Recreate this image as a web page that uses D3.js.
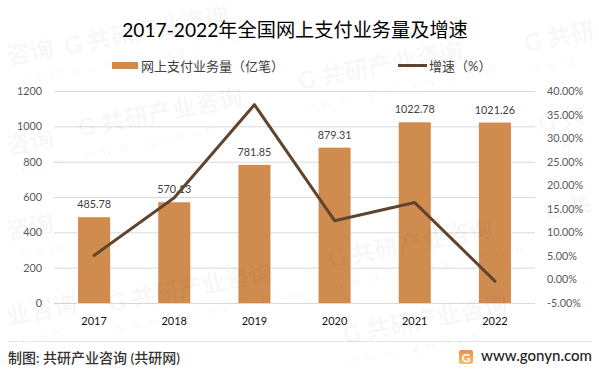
<!DOCTYPE html>
<html>
<head>
<meta charset="utf-8">
<script src="https://cdn.jsdelivr.net/npm/d3@7"></script>
<style>
  html, body { margin: 0; padding: 0; background: #fff; }
  svg { display: block; }
  text { font-family: Lato, "Noto Sans CJK SC", sans-serif; }
  .domain { display: none; }
</style>
</head>
<body>
<div class="graph"></div>
<script>
const years = ['2017', '2018', '2019', '2020', '2021', '2022']
const volume = [485.78, 570.13, 781.85, 879.31, 1022.78, 1021.26]
const growth = [5.1, 17.36, 37.1, 12.47, 16.32, -0.35]
const leftTicks = [0, 200, 400, 600, 800, 1000, 1200]
const rightTicks = [-5, 0, 5, 10, 15, 20, 25, 30, 35, 40]
// watermark pieces: x, y, big text, small text
const stamps = [
    [66, 55, 'G 共研产业咨询', 'w w w . g o n y n . c o m'],
    [80, 137, 'G 共研产业咨询', 'w w w . g o n y n . c o m'],
    [300, 90, 'G 共研产业咨询', 'w w w . g o n y n . c o m'],
    [110, 312, 'G 共研产业咨询', 'w w w . g o n y n . c o m'],
    [330, 268, 'G 共研产业咨询', 'w w w . g o n y n . c o m'],
    [345, 344, 'G 共研产业咨询', 'w w w . g o n y n'],
    [8, 65, '咨询', '. c o m'],
    [8, 155, '咨询', '. c o m'],
    [8, 240, '咨询', '. c o m'],
    [8, 325, '业咨询', '. c o m'],
    [526, 52, 'G 共研', 'w w w'],
    [540, 132, 'G 共', 'w w'],
    [546, 220, 'G 共', 'w w']
]

const width = 599, height = 373
const margin = {left: 54, right: 64, top: 91, bottom: 70}
const innerW = width - margin.left - margin.right
const innerH = height - margin.top - margin.bottom

const svg = d3.select('.graph').append('svg')
    .attr('width', width)
    .attr('height', height)

const graph = svg.append('g')
    .attr('transform', `translate(${margin.left}, ${margin.top})`)

const xScale = d3.scaleBand()
    .domain(years)
    .range([0, innerW])
    .paddingInner(0.6)
    .paddingOuter(0.3)
const yLeft = d3.scaleLinear().domain([0, 1200]).range([innerH, 0])
const yRight = d3.scaleLinear().domain([-5, 40]).range([innerH, 0])

// grid + left axis
const leftAxis = graph.append('g')
    .call(d3.axisLeft(yLeft).tickValues(leftTicks).tickSize(-innerW).tickPadding(12).tickFormat(d3.format('d')))
leftAxis.selectAll('line').attr('stroke', '#d9d9d9').attr('stroke-width', 1)
leftAxis.selectAll('text').attr('font-size', 10.8).attr('fill', '#595959')

const rightAxis = graph.append('g')
    .attr('transform', `translate(${innerW}, 0)`)
    .call(d3.axisRight(yRight).tickValues(rightTicks).tickSize(0).tickPadding(12).tickFormat(d => d.toFixed(2) + '%'))
rightAxis.selectAll('text').attr('font-size', 10.8).attr('fill', '#595959')

const bottomAxis = graph.append('g')
    .attr('transform', `translate(0, ${innerH})`)
    .call(d3.axisBottom(xScale).tickSize(0).tickPadding(14))
bottomAxis.selectAll('text').attr('font-size', 11).attr('fill', '#111')

graph.selectAll('.bar')
    .data(years)
    .enter().append('rect')
        .attr('class', 'bar')
        .attr('x', d => xScale(d))
        .attr('y', (d, i) => yLeft(volume[i]))
        .attr('width', xScale.bandwidth())
        .attr('height', (d, i) => innerH - yLeft(volume[i]))
        .attr('fill', '#d08c4f')

graph.selectAll('.val')
    .data(years)
    .enter().append('text')
        .attr('class', 'val')
        .attr('x', d => xScale(d) + xScale.bandwidth() / 2)
        .attr('y', (d, i) => yLeft(volume[i]) - 9)
        .attr('text-anchor', 'middle')
        .attr('font-size', 10.8)
        .attr('fill', '#404040')
        .text((d, i) => volume[i])

const line = d3.line()
    .x((d, i) => xScale(years[i]) + xScale.bandwidth() / 2)
    .y(d => yRight(d))
graph.append('path')
    .attr('d', line(growth))
    .attr('fill', 'none')
    .attr('stroke', '#5f452f')
    .attr('stroke-width', 3)
    .attr('stroke-linecap', 'round')
    .attr('stroke-linejoin', 'round')

// title
svg.append('text')
    .text('2017-2022年全国网上支付业务量及增速')
    .attr('x', 295)
    .attr('y', 37)
    .attr('text-anchor', 'middle')
    .attr('font-size', 19.2)
    .attr('fill', '#000')

// legend
svg.append('rect')
    .attr('x', 112).attr('y', 62).attr('width', 26).attr('height', 7)
    .attr('fill', '#d08c4f')
svg.append('text')
    .text('网上支付业务量（亿笔）')
    .attr('x', 141).attr('y', 71)
    .attr('font-size', 13)
    .attr('fill', '#404040')
svg.append('line')
    .attr('x1', 398).attr('x2', 427).attr('y1', 65.5).attr('y2', 65.5)
    .attr('stroke', '#5f452f')
    .attr('stroke-width', 3)
svg.append('text')
    .text('增速（%）')
    .attr('x', 429).attr('y', 71)
    .attr('font-size', 13)
    .attr('fill', '#404040')

// footer
svg.append('line')
    .attr('x1', 8).attr('x2', 592).attr('y1', 341.5).attr('y2', 341.5)
    .attr('stroke', '#e6e6e6')
svg.append('text')
    .text('制图: 共研产业咨询 (共研网)')
    .attr('x', 8).attr('y', 363)
    .attr('font-size', 14)
    .attr('font-weight', 500)
    .attr('fill', '#333')
const grad = svg.append('defs').append('linearGradient')
    .attr('id', 'logo').attr('x1', 0).attr('y1', 0).attr('x2', 0).attr('y2', 1)
grad.append('stop').attr('offset', 0).attr('stop-color', '#f08a4b')
grad.append('stop').attr('offset', 1).attr('stop-color', '#f8c06a')
svg.append('rect')
    .attr('x', 459).attr('y', 350).attr('width', 14).attr('height', 14).attr('rx', 2)
    .attr('fill', 'url(#logo)')
svg.append('text')
    .text('G')
    .attr('x', 466).attr('y', 362)
    .attr('text-anchor', 'middle')
    .attr('font-size', 12)
    .attr('font-weight', 700)
    .attr('fill', '#fff')
svg.append('text')
    .text('www.gonyn.com')
    .attr('x', 592).attr('y', 361)
    .attr('text-anchor', 'end')
    .attr('font-size', 15)
    .attr('font-weight', 500)
    .attr('fill', '#222')

// watermark, sits faintly over everything
const mark = svg.selectAll('.stamp')
    .data(stamps)
    .enter().append('g')
        .attr('class', 'stamp')
        .attr('transform', d => `translate(${d[0]}, ${d[1]}) rotate(-11)`)
        .attr('fill', '#000')
        .attr('fill-opacity', 0.045)
mark.append('text')
    .text(d => d[2])
    .attr('font-size', 24)
    .attr('font-weight', 700)
mark.append('text')
    .text(d => d[3])
    .attr('y', 22)
    .attr('font-size', 14)
    .attr('letter-spacing', 2)
</script>
</body>
</html>
